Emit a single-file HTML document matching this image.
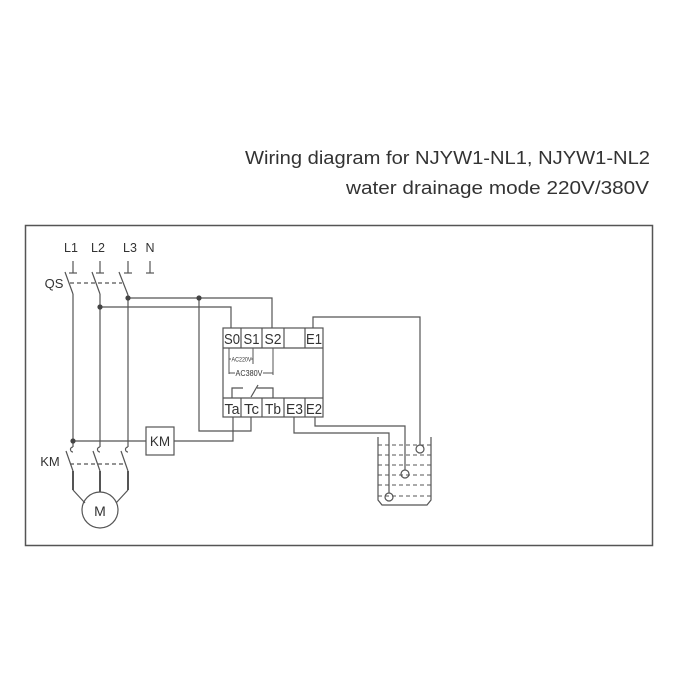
<!DOCTYPE html>
<html><head><meta charset="utf-8"><style>
html,body{margin:0;padding:0;background:#fff;}
svg{display:block;}
text{font-family:"Liberation Sans",sans-serif;fill:#333;}
</style></head><body>
<svg width="677" height="677" viewBox="0 0 677 677" xmlns="http://www.w3.org/2000/svg">
<rect x="0" y="0" width="677" height="677" fill="#fff"/>
<text x="650" y="164" font-size="18" text-anchor="end" textLength="405" lengthAdjust="spacingAndGlyphs">Wiring diagram for NJYW1-NL1, NJYW1-NL2</text>
<text x="649" y="194" font-size="18" text-anchor="end" textLength="303" lengthAdjust="spacingAndGlyphs">water drainage mode 220V/380V</text>

<rect x="25.5" y="225.5" width="627" height="320" fill="none" stroke="#555" stroke-width="1.5"/>

<g stroke="#555" stroke-width="1.2" fill="none">
<line x1="73" y1="261" x2="73" y2="273"/><line x1="69" y1="273" x2="77" y2="273"/>
<line x1="100" y1="261" x2="100" y2="273"/><line x1="96" y1="273" x2="104" y2="273"/>
<line x1="128" y1="261" x2="128" y2="273"/><line x1="124" y1="273" x2="132" y2="273"/>
<line x1="150" y1="261" x2="150" y2="273"/><line x1="146" y1="273" x2="154" y2="273"/>
<line x1="65" y1="272" x2="73" y2="294"/>
<line x1="92" y1="272" x2="100" y2="294"/>
<line x1="119" y1="272" x2="128" y2="295"/>
<line x1="70" y1="283" x2="122" y2="283" stroke-dasharray="4,3"/>
<line x1="73" y1="294" x2="73" y2="447"/>
<line x1="100" y1="294" x2="100" y2="447"/>
<line x1="128" y1="295" x2="128" y2="447"/>
<polyline points="128,298 272,298 272,328"/>
<polyline points="100,307 231,307 231,328"/>
<polyline points="199,298 199,431 251,431 251,417"/>
<polyline points="233,417 233,441 174,441"/>
<line x1="73" y1="441" x2="146" y2="441"/>
<rect x="146" y="427" width="28" height="28"/>
<rect x="223" y="328" width="100" height="89"/>
<line x1="223" y1="348" x2="323" y2="348"/>
<line x1="223" y1="398" x2="323" y2="398"/>
<line x1="241" y1="328" x2="241" y2="348"/>
<line x1="262" y1="328" x2="262" y2="348"/>
<line x1="284" y1="328" x2="284" y2="348"/>
<line x1="305" y1="328" x2="305" y2="348"/>
<line x1="241" y1="398" x2="241" y2="417"/>
<line x1="262" y1="398" x2="262" y2="417"/>
<line x1="284" y1="398" x2="284" y2="417"/>
<line x1="305" y1="398" x2="305" y2="417"/>
<line x1="229" y1="348" x2="229" y2="374" stroke-width="1"/>
<line x1="229" y1="359" x2="231" y2="359" stroke-width="1"/>
<line x1="251" y1="359" x2="253" y2="359" stroke-width="1"/>
<line x1="253" y1="348" x2="253" y2="364" stroke-width="1"/>
<line x1="229" y1="373" x2="235" y2="373" stroke-width="1"/>
<line x1="263" y1="373" x2="273" y2="373" stroke-width="1"/>
<line x1="273" y1="348" x2="273" y2="375" stroke-width="1"/>
<polyline points="232,398 232,388 243,388"/>
<line x1="251" y1="397" x2="258" y2="385"/>
<polyline points="257,388 273,388 273,398"/>
<polyline points="294,417 294,433 389,433 389,493"/>
<circle cx="389" cy="497" r="4"/>
<polyline points="315,417 315,426 405,426 405,470"/>
<circle cx="405" cy="474" r="4"/>
<polyline points="313,328 313,317 420,317 420,445"/>
<circle cx="420" cy="449" r="4"/>
<polyline points="378,437 378,500 382,505 427,505 431,500 431,437"/>
<g stroke-dasharray="4,3" stroke-width="1">
<line x1="378" y1="445" x2="431" y2="445"/>
<line x1="378" y1="455" x2="431" y2="455"/>
<line x1="378" y1="465" x2="431" y2="465"/>
<line x1="378" y1="475" x2="431" y2="475"/>
<line x1="378" y1="485" x2="431" y2="485"/>
<line x1="378" y1="496" x2="431" y2="496"/>
</g>
<path d="M73,447 A2.5,2.5 0 1 0 73,452"/>
<path d="M100,447 A2.5,2.5 0 1 0 100,452"/>
<path d="M128,447 A2.5,2.5 0 1 0 128,452"/>
<line x1="66" y1="451" x2="73" y2="471"/>
<line x1="93" y1="451" x2="100" y2="471"/>
<line x1="121" y1="451" x2="128" y2="471"/>
<line x1="70" y1="464" x2="126" y2="464" stroke-dasharray="4,3"/>
<line x1="73" y1="471" x2="73" y2="490" stroke-width="2"/>
<line x1="100" y1="471" x2="100" y2="492" stroke-width="2"/>
<line x1="128" y1="471" x2="128" y2="490" stroke-width="2"/>
<line x1="73" y1="490" x2="85" y2="503"/>
<line x1="128" y1="490" x2="116" y2="503"/>
<circle cx="100" cy="510" r="18"/>
</g>
<g fill="#444">
<circle cx="128" cy="298" r="2.6"/>
<circle cx="199" cy="298" r="2.6"/>
<circle cx="100" cy="307" r="2.6"/>
<circle cx="73" cy="441" r="2.6"/>
</g>

<g font-size="12.5" text-anchor="middle">
<text x="71" y="252">L1</text>
<text x="98" y="252">L2</text>
<text x="130" y="252">L3</text>
<text x="150" y="252">N</text>
</g>
<text x="54" y="288" font-size="13" text-anchor="middle">QS</text>
<text x="50" y="466" font-size="13" text-anchor="middle">KM</text>
<text x="160" y="446" font-size="13.5" text-anchor="middle">KM</text>
<text x="100" y="516" font-size="14" text-anchor="middle">M</text>
<g font-size="15" text-anchor="middle">
<text x="232" y="344" textLength="16" lengthAdjust="spacingAndGlyphs">S0</text>
<text x="251.5" y="344" textLength="16" lengthAdjust="spacingAndGlyphs">S1</text>
<text x="273" y="344" textLength="17" lengthAdjust="spacingAndGlyphs">S2</text>
<text x="314" y="344" textLength="16" lengthAdjust="spacingAndGlyphs">E1</text>
<text x="232" y="414" textLength="15" lengthAdjust="spacingAndGlyphs">Ta</text>
<text x="251.5" y="414" textLength="15" lengthAdjust="spacingAndGlyphs">Tc</text>
<text x="273" y="414" textLength="16" lengthAdjust="spacingAndGlyphs">Tb</text>
<text x="294.5" y="414" textLength="17" lengthAdjust="spacingAndGlyphs">E3</text>
<text x="314" y="414" textLength="16" lengthAdjust="spacingAndGlyphs">E2</text>
</g>
<text x="241.5" y="361.5" font-size="6.5" text-anchor="middle" textLength="20" lengthAdjust="spacingAndGlyphs">AC220V</text>
<text x="249" y="376" font-size="8.5" text-anchor="middle" textLength="27" lengthAdjust="spacingAndGlyphs">AC380V</text>
</svg>
</body></html>
